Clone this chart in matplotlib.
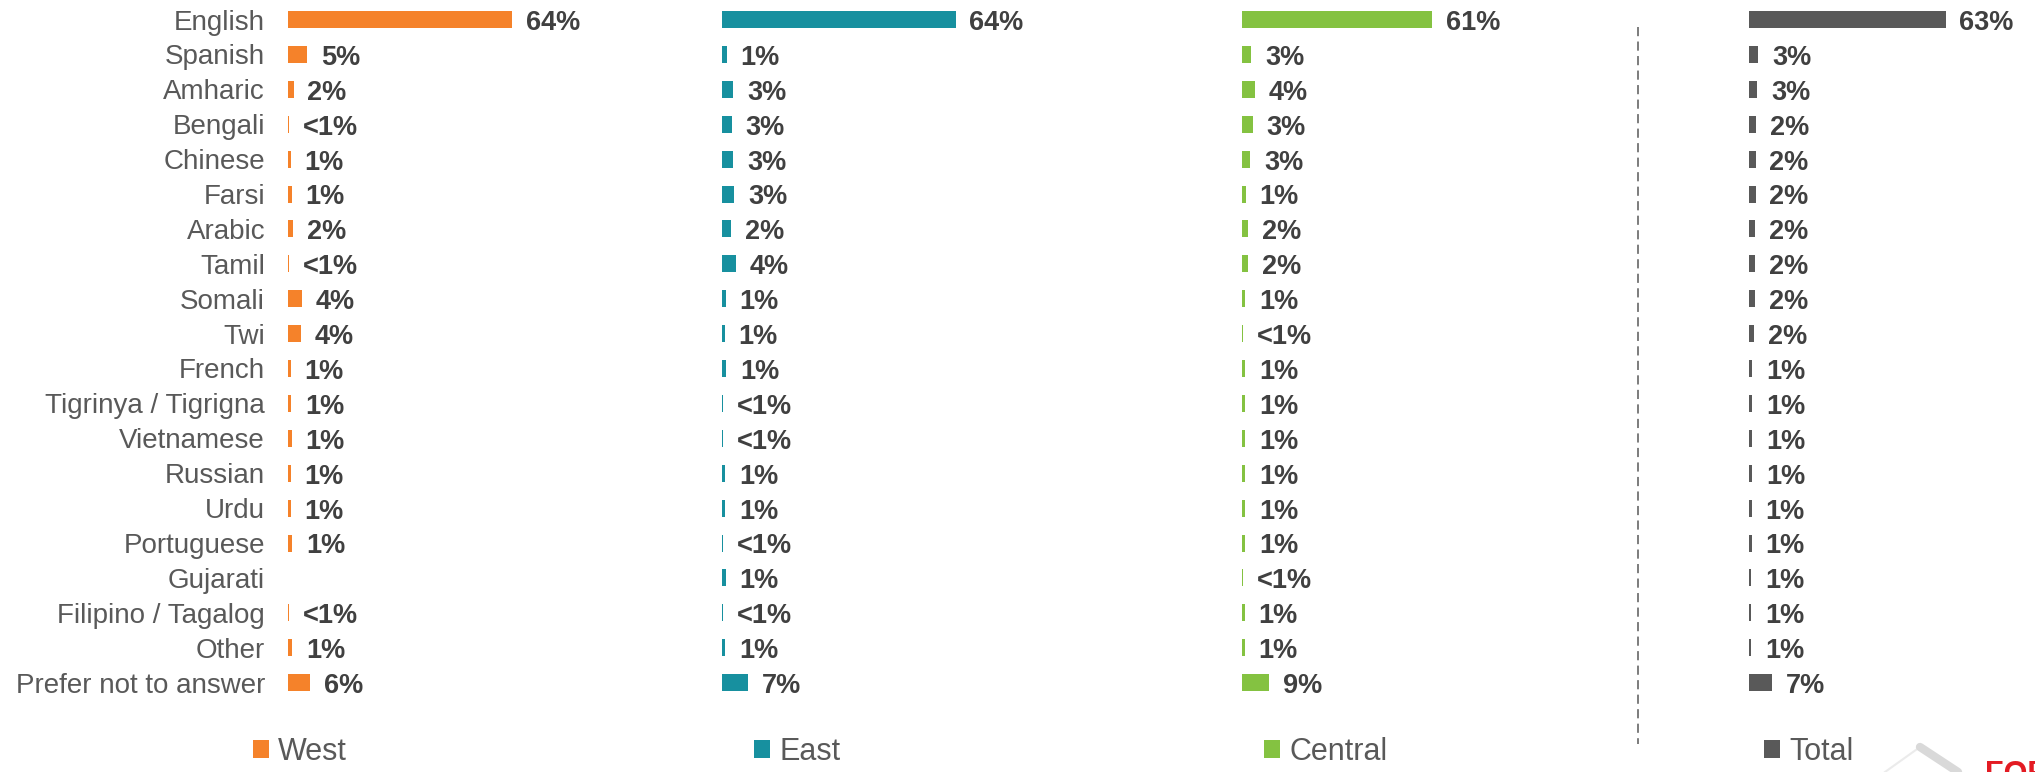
import matplotlib
matplotlib.use("Agg")
import matplotlib.pyplot as plt
import numpy as np
from matplotlib.lines import Line2D

plt.rcParams["font.family"] = ["Liberation Sans", "DejaVu Sans"]

languages = [
    "English", "Spanish", "Amharic", "Bengali", "Chinese", "Farsi", "Arabic",
    "Tamil", "Somali", "Twi", "French", "Tigrinya / Tigrigna", "Vietnamese",
    "Russian", "Urdu", "Portuguese", "Gujarati", "Filipino / Tagalog", "Other",
    "Prefer not to answer",
]

# percent of respondents (labels are rounded)
west = [64, 5.4, 1.6, 0.3, 0.8, 1.0, 1.5, 0.2, 4.0, 3.6, 0.8, 0.9, 1.0, 0.8,
        0.8, 1.2, np.nan, 0.3, 1.2, 6.2]
east = [64, 1.3, 3.1, 2.7, 3.1, 3.4, 2.4, 3.8, 1.0, 0.7, 1.2, 0.4, 0.4, 0.8,
        0.8, 0.2, 1.0, 0.4, 0.9, 7.0]
central = [61, 2.9, 4.2, 3.4, 2.7, 1.2, 2.0, 1.9, 1.0, 0.3, 1.1, 1.0, 1.0, 1.0,
           1.0, 1.0, 0.2, 0.9, 0.9, 8.7]
total = [63, 3.0, 2.7, 2.2, 2.1, 2.1, 2.0, 2.0, 2.0, 1.6, 1.0, 1.0, 1.0, 1.0,
         0.9, 0.9, 0.8, 0.8, 0.8, 7.3]

regions = ["West", "East", "Central", "Total"]
colors = ["#F5822A", "#17909F", "#84C241", "#595959"]

W, H = 2035, 772
# panel layout in pixels: bar origin x, pixels per percent, legend marker x
panels = [
    (west, 288, 3.50, 253),
    (east, 722, 3.65, 754),
    (central, 1242, 3.12, 1264),
    (total, 1749, 3.12, 1764),
]
row0, row_step = 19.5, 34.9
panel_w = 280


def pct_label(v):
    if np.isnan(v):
        return ""
    if v < 0.5:
        return "<1%"
    return f"{int(round(v))}%"


fig = plt.figure(figsize=(W / 100, H / 100), dpi=100)
y = np.arange(len(languages))
ylo = (0 - row0) / row_step
yhi = (H - row0) / row_step

for i, (vals, x0, ppp, leg_x) in enumerate(panels):
    ax = fig.add_axes([x0 / W, 0, panel_w / W, 1])
    vals = np.array(vals, dtype=float)
    bars = ax.barh(y, np.nan_to_num(vals), height=17 / row_step, color=colors[i])
    ax.set_xlim(0, panel_w / ppp)
    ax.set_ylim(yhi, ylo)
    for s in ax.spines.values():
        s.set_visible(False)
    ax.set_xticks([])
    if i == 0:
        ax.set_yticks(y)
        ax.set_yticklabels(languages, fontsize=20, color="#595959")
        ax.tick_params(axis="y", length=0, pad=16.5)
    else:
        ax.set_yticks([])
    for yi, v in zip(y, vals):
        ax.annotate(pct_label(v), (0 if np.isnan(v) else v, yi), xytext=(10, -2.5),
                    textcoords="offset points", va="center", ha="left",
                    fontsize=19.5, fontweight="bold", color="#404040",
                    annotation_clip=False)
    ax.legend([bars], [regions[i]], loc="center left",
              bbox_to_anchor=(leg_x / W, 1 - 752 / H), bbox_transform=fig.transFigure,
              frameon=False, fontsize=22, handlelength=0.52, handleheight=0.52,
              handletextpad=0.3, borderpad=0, borderaxespad=0,
              labelcolor="#595959")

# dashed divider between regions and total
fig.add_artist(Line2D([1638 / W, 1638 / W], [1 - 27 / H, 1 - 744 / H],
                      color="#595959", lw=1.1, linestyle=(0, (6, 3.5))))

# partial logo in the corner
fig.add_artist(Line2D([1885 / W, 1920 / W], [0, 1 - 747 / H],
                      color="#EBEBEB", lw=1.5))
fig.add_artist(Line2D([1920 / W, 1958 / W], [1 - 747 / H, 0],
                      color="#D9D9D9", lw=6, solid_capstyle="round"))
fig.text(1985 / W, 1 - 760 / H, "FORSTA", color="#E31B23", fontsize=22,
         fontweight="bold", va="top", ha="left")

fig.savefig("out.png", dpi=100)
